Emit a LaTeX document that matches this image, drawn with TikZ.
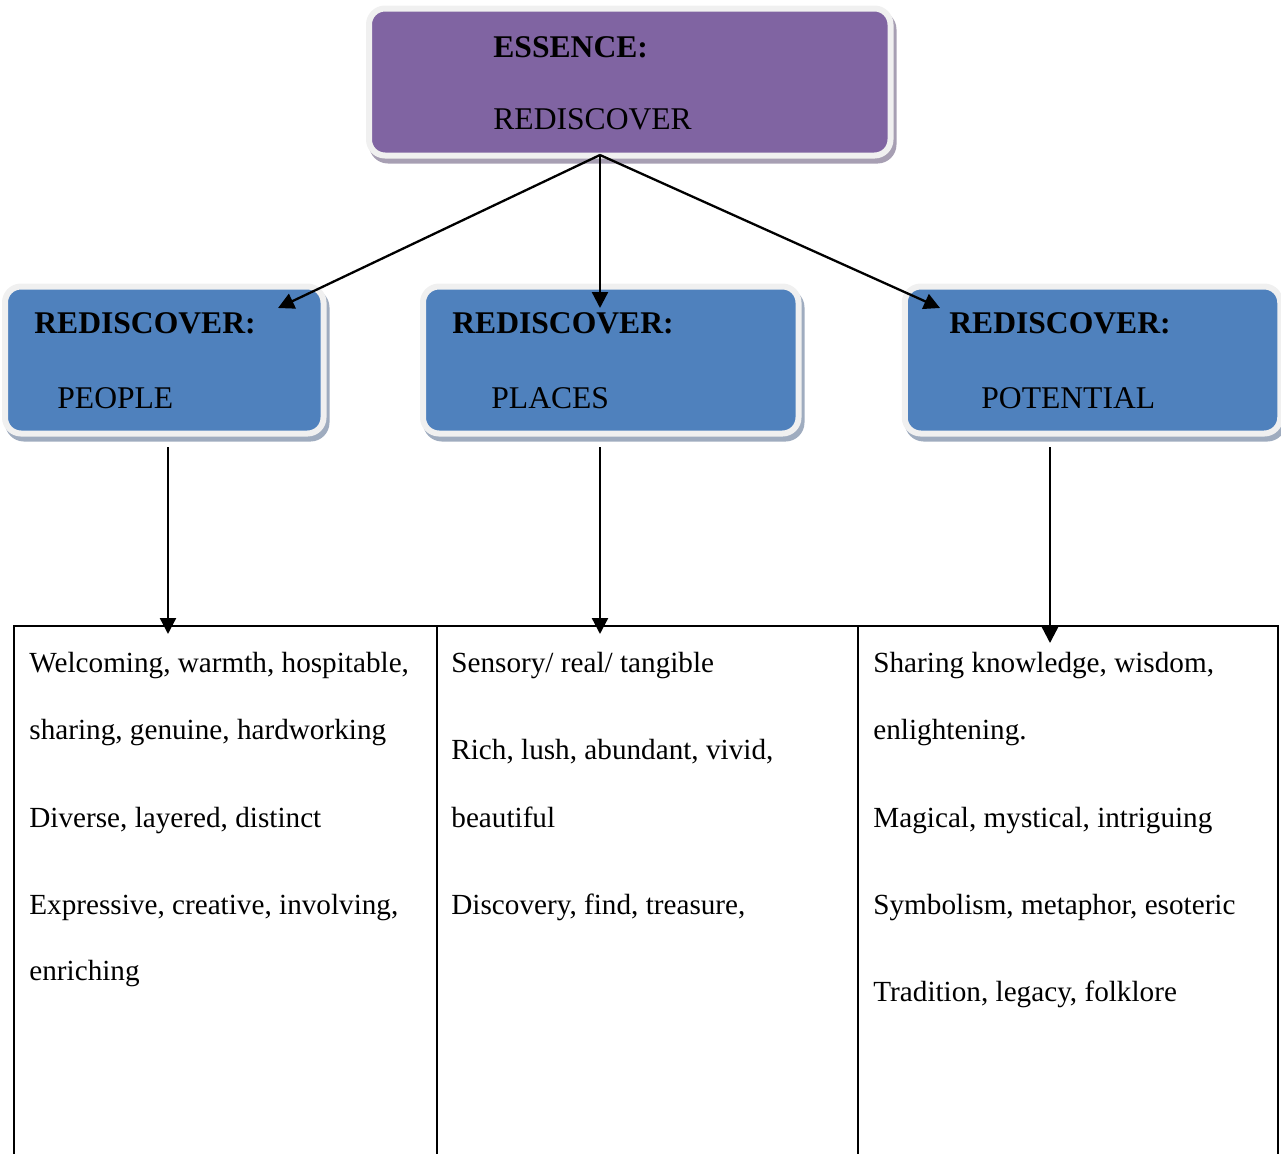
\documentclass[tikz,border=0pt]{standalone}
\usepackage{fontspec}
\setmainfont{Liberation Serif}
\usetikzlibrary{shadows,arrows.meta}
\definecolor{purp}{HTML}{8064A2}
\definecolor{blu}{HTML}{4F81BD}
\definecolor{rim}{HTML}{F0F0F0}
\definecolor{shp}{HTML}{A79FB3}
\definecolor{shb}{HTML}{9FACBF}
\begin{document}
\begin{tikzpicture}[x=0.5pt,y=-0.5pt,
  box/.style={rectangle, rounded corners=8pt, draw=rim, line width=3pt, inner sep=0pt, minimum height=73.5pt},
  pshadow/.style={general shadow={fill=shp, draw=shp, line width=3pt, shadow xshift=1.5pt, shadow yshift=-2.5pt}},
  bshadow/.style={general shadow={fill=shb, draw=shb, line width=3pt, shadow xshift=1.5pt, shadow yshift=-2.5pt}},
  boxtxt/.style={anchor=base west, inner sep=0pt, font=\fontsize{15.8}{19}\selectfont},
  boxhead/.style={anchor=base west, inner sep=0pt, font=\fontsize{15.8}{19}\selectfont\bfseries},
  celltxt/.style={anchor=base west, inner sep=0pt, font=\fontsize{14.6}{17}\selectfont},
  arr/.style={line width=1.15pt, -{Triangle[length=8pt,width=8pt]}},
  gridline/.style={line width=1pt}]
\useasboundingbox (0,0) rectangle (1281,1153);

% boxes
\node[box, pshadow, fill=purp, minimum width=260.75pt] (top) at (629.75,82) {};
\node[box, bshadow, fill=blu, minimum width=159.25pt] (people) at (164.25,360) {};
\node[box, bshadow, fill=blu, minimum width=187.75pt] (places) at (610.75,360) {};
\node[box, bshadow, fill=blu, minimum width=187.75pt] (potential) at (1092.5,360) {};

% box texts
\node[boxhead] (essh) at (493,57) {ESSENCE:};
\node[boxtxt] (esst) at (493,129) {REDISCOVER};
\node[boxhead] (peoh) at (34,333) {REDISCOVER:};
\node[boxtxt] (peot) at (57,408) {PEOPLE};
\node[boxhead] (plah) at (452,333) {REDISCOVER:};
\node[boxtxt] (plat) at (491,408) {PLACES};
\node[boxhead] (poth) at (949,333) {REDISCOVER:};
\node[boxtxt] (pott) at (981,408) {POTENTIAL};

% arrows from top
\coordinate (src) at (600,155);
\coordinate (tipL) at (278,308);
\coordinate (tipM) at (600,308);
\coordinate (tipR) at (940,308);
\draw[arr] (src) -- (tipL);
\draw[arr] (src) -- (tipM);
\draw[arr] (src) -- (tipR);

% arrows down to table
\coordinate (sL) at (168,447);
\coordinate (eL) at (168,634);
\coordinate (sM) at (600,447);
\coordinate (eM) at (600,634);
\coordinate (sR) at (1050,447);
\coordinate (eR) at (1050,643);
\draw[arr] (sL) -- (eL);
\draw[arr] (sM) -- (eM);
\draw[arr] (sR) -- (eR);

% table
\draw[gridline] (14,1165) -- (14,625.5) -- (1278,625.5) -- (1278,1165);
\draw[gridline] (437,625.5) -- (437,1165);
\draw[gridline] (857.5,625.5) -- (857.5,1165);

% column 1
\node[celltxt] (a1) at (29,672) {Welcoming, warmth, hospitable,};
\node[celltxt] (a2) at (29,739) {sharing, genuine, hardworking};
\node[celltxt] (a3) at (29,827) {Diverse, layered, distinct};
\node[celltxt] (a4) at (29,914) {Expressive, creative, involving,};
\node[celltxt] (a5) at (29,980) {enriching};

% column 2
\node[celltxt] (b1) at (451,672) {Sensory/ real/ tangible};
\node[celltxt] (b2) at (451,759) {Rich, lush, abundant, vivid,};
\node[celltxt] (b3) at (451,827) {beautiful};
\node[celltxt] (b4) at (451,914) {Discovery, find, treasure,};

% column 3
\node[celltxt] (c1) at (873,672) {Sharing knowledge, wisdom,};
\node[celltxt] (c2) at (873,739) {enlightening.};
\node[celltxt] (c3) at (873,827) {Magical, mystical, intriguing};
\node[celltxt] (c4) at (873,914) {Symbolism, metaphor, esoteric};
\node[celltxt] (c5) at (873,1001) {Tradition, legacy, folklore};
\end{tikzpicture}
\end{document}
